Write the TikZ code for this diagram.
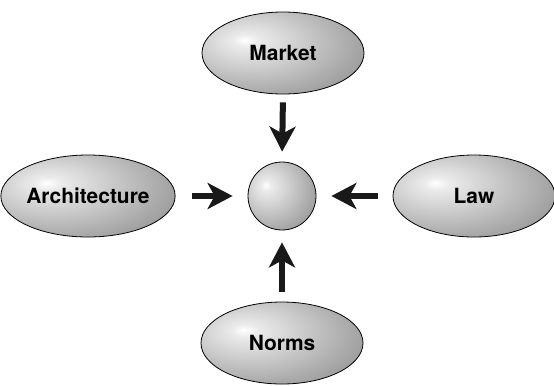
\documentclass[tikz,border=0pt]{standalone}
\usepackage{fontspec}
\setmainfont{TeX Gyre Heros}
\usetikzlibrary{shapes.geometric,arrows.meta}
\pgfdeclareradialshading{ovalshade}{\pgfpoint{-12bp}{8bp}}{%
  color(0bp)=(white); color(4bp)=(black!8); color(14bp)=(black!18); color(28bp)=(black!32); color(42bp)=(black!45); color(100bp)=(black!48)}
\tikzset{
  oval/.style={ellipse, draw=black, line width=0.8bp, shading=ovalshade,
    minimum width=162bp, minimum height=82bp, inner sep=0pt,
    font=\fontsize{21}{24}\selectfont\bfseries},
  ballnode/.style={circle, draw=black, line width=0.8bp, shading=ovalshade,
    minimum size=68bp, inner sep=0pt},
  bigarrow/.style={line width=6bp, -{Stealth[length=25bp,width=26bp,inset=7bp]}, black!90}
}
\begin{document}
\begin{tikzpicture}[x=1bp,y=-1bp]
\useasboundingbox (0,0) rectangle (554,385);
\node[oval] (market) at (283,53) {Market};
\node[oval] (arch) at (88,196) {Architecture};
\node[oval] (law) at (474,196) {Law};
\node[oval] (norms) at (282,343) {Norms};
\node[ballnode] (ball) at (282,196) {};
\draw[bigarrow, shorten <=8bp, shorten >=10bp] (market.south) -- (ball.north);
\draw[bigarrow, shorten <=16bp, shorten >=15bp] (arch.east) -- (ball.west);
\draw[bigarrow, shorten <=15bp, shorten >=15bp] (law.west) -- (ball.east);
\draw[bigarrow, shorten <=10bp, shorten >=12bp] (norms.north) -- (ball.south);
\end{tikzpicture}
\end{document}
